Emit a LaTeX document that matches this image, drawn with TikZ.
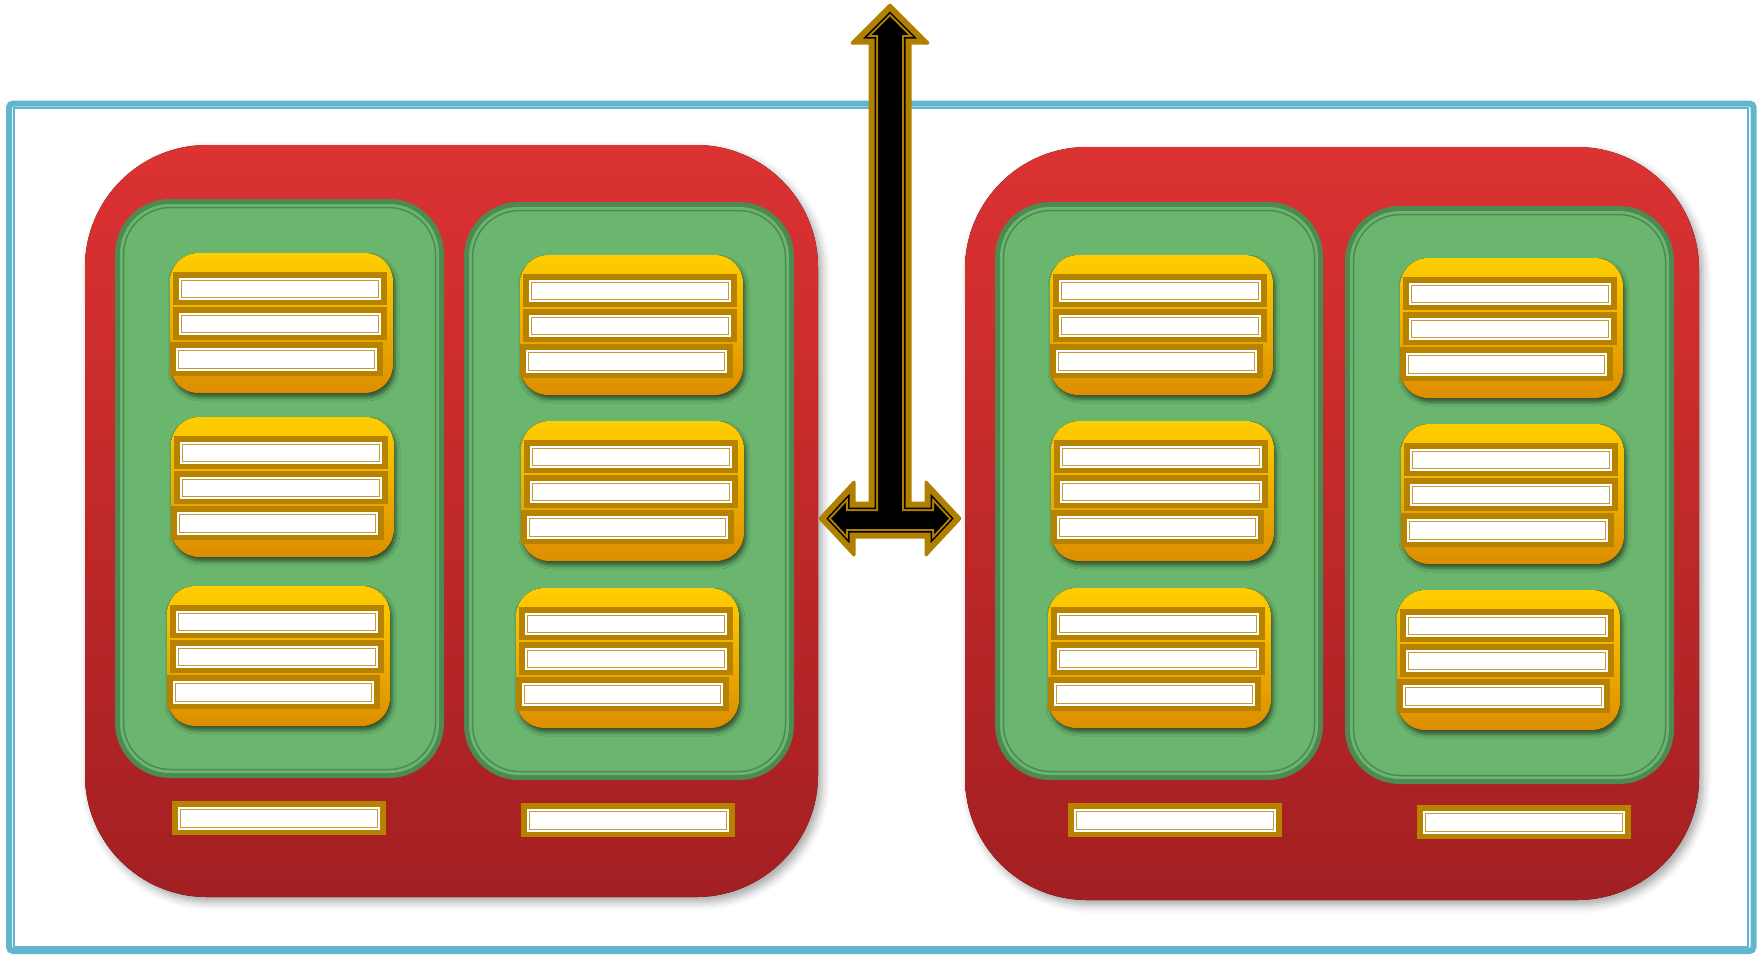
\documentclass[tikz,border=0pt]{standalone}
\usetikzlibrary{shadows.blur}
\definecolor{frameblue}{HTML}{62B6CC}
\definecolor{redtop}{HTML}{DC3232}
\definecolor{redbot}{HTML}{A31F21}
\definecolor{grn}{HTML}{6AB66E}
\definecolor{grndark}{HTML}{4C8A52}
\definecolor{cardtop}{HTML}{FFCE00}
\definecolor{cardmid}{HTML}{F4B000}
\definecolor{cardbot}{HTML}{DC8E00}
\definecolor{bargold}{HTML}{B68200}
\definecolor{linegold}{HTML}{C29C3C}
\definecolor{arrowgold}{HTML}{B08000}
\tikzset{
  redblock/.style={rounded corners=122, top color=redtop, bottom color=redbot,
    blur shadow={shadow xshift=4pt, shadow yshift=-5pt, shadow blur radius=8pt, shadow opacity=35}},
  cardbox/.style={rounded corners=28, top color=cardtop, middle color=cardmid, bottom color=cardbot,
    blur shadow={shadow xshift=2pt, shadow yshift=-4pt, shadow blur radius=4pt, shadow opacity=55}},
}
\newcommand\slotbar[4]{%
  \fill[bargold] (#1,#2) rectangle (#3,#4);
  \fill[white] (#1+6,#2+6) rectangle (#3-6,#4-5);
  \draw[linegold, line width=1.5] (#1+8.5,#2+8.5) rectangle (#3-8.5,#4-7.5);
}
\newcommand\card[2]{%
  \begin{scope}[shift={(#1,#2)}]
    \fill[cardbox] (0,0) rectangle (223,140);
    \slotbar{3}{19}{217}{52}
    \slotbar{3}{54}{217}{87}
    \slotbar{0}{89}{213}{123}
  \end{scope}}
\newcommand\panel[4]{%
  \fill[grndark, rounded corners=55] (#1,#2) rectangle (#3,#4);
  \fill[grn, rounded corners=50] (#1+5,#2+5) rectangle (#3-5,#4-5);
  \draw[grndark, line width=1.5, rounded corners=47] (#1+8.5,#2+8.5) rectangle (#3-8.5,#4-8.5);
}
\def\arrowpath{(890,5) -- (928,43) -- (910,43) -- (910,503) -- (926,503) -- (926,482)
  -- (960,518.5) -- (926,555) -- (926,537) -- (854,537) -- (854,555) -- (820,518.5)
  -- (854,482) -- (854,503) -- (870,503) -- (870,43) -- (852,43) -- cycle}
\begin{document}
\begin{tikzpicture}[x=1pt,y=-1pt]
\useasboundingbox (0,0) rectangle (1763,954);
% frame
\draw[frameblue, line width=6, rounded corners=4] (9,103.5) rectangle (1753.5,951);
\draw[frameblue, line width=2] (14,108) rectangle (1747.7,946.5);
% red blocks
\fill[redblock] (85,145) rectangle (818,897);
\fill[redblock] (965,147) rectangle (1699,900);
% green panels
\panel{115}{199}{444}{778}
\panel{464}{202}{794}{780}
\panel{995}{202}{1323}{780}
\panel{1345}{206}{1674}{784}
% cards
\card{170}{253}\card{171}{417}\card{167}{586}
\card{520}{255}\card{521}{421}\card{516}{588}
\card{1050}{255}\card{1051}{421}\card{1048}{588}
\card{1400}{258}\card{1401}{424}\card{1397}{590}
% bottom bars
\slotbar{172}{801}{386}{835}
\slotbar{521}{803}{735}{837}
\slotbar{1068}{803}{1282}{837}
\slotbar{1417}{805}{1631}{839}
% arrow
\fill[black] \arrowpath;
\begin{scope}
  \clip \arrowpath;
  \draw[arrowgold, line width=16] \arrowpath;
  \draw[black, line width=12] \arrowpath;
  \draw[arrowgold, line width=9] \arrowpath;
\end{scope}
\draw[arrowgold, line width=3, line join=round] \arrowpath;
\end{tikzpicture}
\end{document}
